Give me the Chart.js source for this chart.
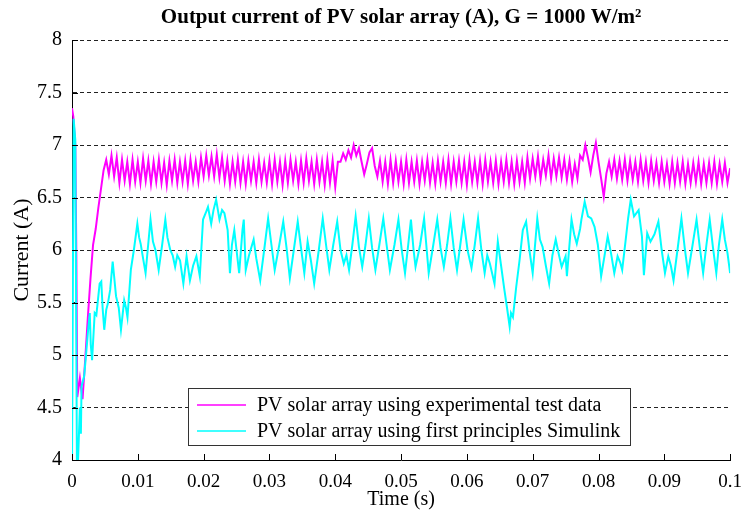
<!DOCTYPE html>
<html>
<head>
<meta charset="utf-8">
<script src="https://cdn.jsdelivr.net/npm/chart.js@4.4.1/dist/chart.umd.min.js"></script>
<style>
  html, body { margin: 0; padding: 0; background: #fff; }
</style>
</head>
<body>
<canvas id="myChart" width="753" height="513"></canvas>
<script>
// experimental test data: a few startup points, then one sample every 0.4 ms from 0.8 ms
var expStartTime = [0, 0.0002, 0.0005, 0.00065];
var expStartCurrent = [7.35, 7.27, 7.0, 6.02];
var expFrom = 0.0008;
var expStep = 0.0004;
var expCurrent = [
  4.60, 4.78, 4.58, 4.95, 5.35, 5.72, 6.05, 6.20, 6.40, 6.58,
  6.76, 6.86, 6.72, 6.90, 6.70, 6.88, 6.64, 6.86, 6.66, 6.84,
  6.63, 6.86, 6.65, 6.84, 6.64, 6.87, 6.66, 6.85, 6.63, 6.84,
  6.65, 6.86, 6.64, 6.83, 6.62, 6.85, 6.66, 6.86, 6.64, 6.84,
  6.65, 6.85, 6.63, 6.86, 6.66, 6.84, 6.65, 6.88, 6.70, 6.90,
  6.71, 6.89, 6.70, 6.91, 6.69, 6.88, 6.66, 6.85, 6.63, 6.84,
  6.65, 6.86, 6.64, 6.84, 6.63, 6.85, 6.66, 6.84, 6.64, 6.86,
  6.65, 6.83, 6.64, 6.85, 6.63, 6.86, 6.65, 6.84, 6.62, 6.85,
  6.64, 6.86, 6.66, 6.84, 6.63, 6.85, 6.64, 6.87, 6.66, 6.84,
  6.63, 6.86, 6.65, 6.84, 6.62, 6.86, 6.64, 6.85, 6.60, 6.84,
  6.84, 6.92, 6.86, 6.95, 6.88, 7.00, 6.90, 6.97, 6.84, 6.72,
  6.82, 6.93, 6.97, 6.80, 6.70, 6.85, 6.65, 6.84, 6.63, 6.86,
  6.64, 6.85, 6.65, 6.84, 6.63, 6.86, 6.64, 6.84, 6.65, 6.85,
  6.63, 6.84, 6.66, 6.86, 6.64, 6.83, 6.63, 6.85, 6.65, 6.84,
  6.64, 6.86, 6.63, 6.84, 6.65, 6.85, 6.64, 6.84, 6.62, 6.86,
  6.65, 6.84, 6.64, 6.85, 6.63, 6.86, 6.65, 6.84, 6.64, 6.85,
  6.63, 6.84, 6.65, 6.86, 6.64, 6.84, 6.63, 6.85, 6.65, 6.84,
  6.64, 6.88, 6.68, 6.87, 6.70, 6.89, 6.67, 6.86, 6.71, 6.90,
  6.68, 6.87, 6.70, 6.88, 6.69, 6.86, 6.67, 6.85, 6.65, 6.82,
  6.68, 6.90, 6.86, 7.00, 6.88, 6.74, 6.90, 7.02, 6.84, 6.68,
  6.51, 6.73, 6.84, 6.70, 6.86, 6.68, 6.85, 6.67, 6.86, 6.66,
  6.85, 6.67, 6.84, 6.65, 6.86, 6.66, 6.84, 6.64, 6.85, 6.66,
  6.83, 6.64, 6.84, 6.65, 6.82, 6.63, 6.84, 6.64, 6.83, 6.65,
  6.84, 6.63, 6.82, 6.64, 6.83, 6.65, 6.84, 6.63, 6.82, 6.64,
  6.83, 6.64, 6.84, 6.63, 6.82, 6.65, 6.83, 6.64, 6.78
];

// first principles Simulink model: turning points
var simTime = [
  0, 0.00025, 0.0005, 0.00075, 0.0009, 0.0012, 0.00135, 0.00145, 0.00185, 0.0022,
  0.00245, 0.0027, 0.00285, 0.00305, 0.00345, 0.0037, 0.0042, 0.00445, 0.00465, 0.0049,
  0.0052, 0.00545, 0.0058, 0.00618, 0.0064, 0.00669, 0.0071, 0.00744, 0.00793, 0.0082,
  0.00843, 0.00894, 0.0094, 0.00993, 0.0102, 0.01043, 0.0108, 0.01118, 0.0115, 0.01193,
  0.0123, 0.01268, 0.01317, 0.0137, 0.01418, 0.0145, 0.01493, 0.0153, 0.01567, 0.016,
  0.01642, 0.01692, 0.01741, 0.01792, 0.0184, 0.0189, 0.01942, 0.01991, 0.0203, 0.02066,
  0.02115, 0.0215, 0.0219, 0.02241, 0.0228, 0.02316, 0.02365, 0.024, 0.0243, 0.02466,
  0.025, 0.0254, 0.0259, 0.0261, 0.0264, 0.0269, 0.0276, 0.028, 0.0286, 0.0292,
  0.0298, 0.0303, 0.0308, 0.0315, 0.0321, 0.0326, 0.0331, 0.0337, 0.0343, 0.0348,
  0.0353, 0.0358, 0.0363, 0.0368, 0.0375, 0.0381, 0.0386, 0.0391, 0.0397, 0.0403,
  0.0408, 0.0413, 0.0417, 0.0421, 0.0426, 0.0431, 0.0436, 0.0441, 0.0446, 0.0451,
  0.0456, 0.0461, 0.0467, 0.0473, 0.0478, 0.0483, 0.049, 0.0496, 0.0501, 0.0506,
  0.051, 0.0515, 0.0519, 0.0522, 0.0529, 0.0535, 0.0539, 0.0542, 0.0549, 0.0555,
  0.056, 0.0565, 0.057, 0.0575, 0.058, 0.0585, 0.059, 0.0595, 0.0601, 0.0607,
  0.0612, 0.0617, 0.0622, 0.0627, 0.0631, 0.0635, 0.0642, 0.0647, 0.0652, 0.0657,
  0.0661, 0.0665, 0.0667, 0.067, 0.0675, 0.068, 0.0685, 0.069, 0.0695, 0.07,
  0.0707, 0.0711, 0.0715, 0.072, 0.0725, 0.073, 0.0735, 0.074, 0.0744, 0.075,
  0.0752, 0.0759, 0.0763, 0.0767, 0.0772, 0.0774, 0.0779, 0.0784, 0.0789, 0.0794,
  0.0799, 0.0804, 0.0809, 0.0814, 0.0819, 0.0824, 0.0829, 0.0833, 0.0836, 0.0841,
  0.0845, 0.0849, 0.0854, 0.0861, 0.0866, 0.0869, 0.0874, 0.0879, 0.0885, 0.0891,
  0.0896, 0.0901, 0.0906, 0.091, 0.0914, 0.092, 0.0926, 0.0931, 0.0936, 0.0943,
  0.0949, 0.0954, 0.0959, 0.0964, 0.0969, 0.0974, 0.0979, 0.0983, 0.0988, 0.0992,
  0.0996, 0.1
];
var simCurrent = [
  3.90, 7.25, 7.05, 3.95, 3.97, 4.50, 4.25, 4.70, 4.80, 5.05,
  5.24, 5.40, 5.10, 4.95, 5.40, 5.38, 5.68, 5.70, 5.45, 5.24,
  5.43, 5.49, 5.62, 5.89, 5.75, 5.56, 5.45, 5.24, 5.52, 5.45,
  5.36, 5.81, 6.00, 6.25, 6.12, 6.06, 5.92, 5.78, 6.00, 6.29,
  6.08, 6.00, 5.81, 6.05, 6.29, 6.12, 6.00, 5.95, 5.84, 5.95,
  5.90, 5.68, 5.94, 5.71, 5.85, 5.94, 5.75, 6.29, 6.35, 6.41,
  6.25, 6.38, 6.48, 6.29, 6.38, 6.35, 6.19, 5.78, 6.05, 6.19,
  6.00, 5.78, 6.19, 6.29, 5.81, 5.95, 6.10, 5.92, 5.71, 6.00,
  6.30, 6.05, 5.81, 6.05, 6.27, 6.02, 5.73, 6.00, 6.27, 6.02,
  5.78, 6.08, 5.90, 5.68, 6.00, 6.30, 6.05, 5.81, 6.05, 6.27,
  6.00, 5.87, 5.95, 5.81, 6.05, 6.32, 6.03, 5.84, 6.05, 6.30,
  6.02, 5.81, 6.05, 6.30, 6.05, 5.81, 6.05, 6.29, 6.00, 5.78,
  6.00, 6.29, 6.00, 5.84, 6.05, 6.30, 6.00, 5.78, 6.05, 6.29,
  6.02, 5.84, 6.05, 6.30, 6.02, 5.81, 6.05, 6.29, 6.00, 5.83,
  6.05, 6.30, 6.00, 5.78, 5.95, 5.87, 5.68, 6.08, 5.85, 5.62,
  5.45, 5.27, 5.40, 5.36, 5.65, 5.90, 6.19, 6.27, 6.00, 5.78,
  6.30, 6.10, 6.03, 5.85, 5.68, 5.95, 6.10, 5.95, 5.84, 5.94,
  5.75, 6.29, 6.15, 6.06, 6.20, 6.29, 6.46, 6.32, 6.30, 6.22,
  6.05, 5.75, 5.94, 6.13, 5.97, 5.78, 5.94, 5.88, 5.81, 6.08,
  6.30, 6.48, 6.32, 6.38, 6.13, 5.76, 6.16, 6.08, 6.15, 6.27,
  6.00, 5.78, 5.94, 5.85, 5.71, 6.00, 6.30, 6.02, 5.78, 6.05,
  6.29, 6.02, 5.78, 6.05, 6.29, 6.02, 5.78, 6.05, 6.29, 6.10,
  5.97, 5.78
];

var xTicks = [0, 0.01, 0.02, 0.03, 0.04, 0.05, 0.06, 0.07, 0.08, 0.09, 0.1];
var yTicks = [4, 4.5, 5, 5.5, 6, 6.5, 7, 7.5, 8];

var expPoints = expStartTime.map(function (t, i) { return {x: t, y: expStartCurrent[i]}; })
  .concat(expCurrent.map(function (v, i) { return {x: expFrom + i * expStep, y: v}; }));
var simPoints = simTime.map(function (t, i) { return {x: t, y: simCurrent[i]}; });

var serif = "'Liberation Serif', 'Times New Roman', serif";

// MATLAB style: ticks point into the plot
var innerTicks = {
  id: 'innerTicks',
  afterDraw: function (chart) {
    var ctx = chart.ctx, a = chart.chartArea, sx = chart.scales.x, sy = chart.scales.y;
    ctx.save();
    ctx.strokeStyle = '#000';
    ctx.lineWidth = 1;
    ctx.beginPath();
    xTicks.forEach(function (v) {
      var px = Math.round(sx.getPixelForValue(v)) + 0.5;
      ctx.moveTo(px, a.bottom);
      ctx.lineTo(px, a.bottom - 6);
    });
    yTicks.forEach(function (v) {
      var py = Math.round(sy.getPixelForValue(v)) + 0.5;
      ctx.moveTo(a.left, py);
      ctx.lineTo(a.left + 6, py);
    });
    ctx.stroke();
    ctx.restore();
  }
};

// boxed legend sitting in the lower middle of the plot
var boxLegend = {
  id: 'boxLegend',
  afterDraw: function (chart) {
    var ctx = chart.ctx, a = chart.chartArea;
    var left = a.left + 116, top = a.top + 348, w = 442, h = 57;
    ctx.save();
    ctx.fillStyle = '#fff';
    ctx.fillRect(left, top, w, h);
    ctx.strokeStyle = '#333';
    ctx.lineWidth = 1;
    ctx.strokeRect(left + 0.5, top + 0.5, w, h);
    ctx.font = '20px ' + serif;
    ctx.textBaseline = 'middle';
    ctx.fillStyle = '#000';
    chart.data.datasets.forEach(function (ds, i) {
      var y = top + 17 + i * 26;
      ctx.strokeStyle = ds.borderColor;
      ctx.lineWidth = 1.5;
      ctx.beginPath();
      ctx.moveTo(left + 9, y);
      ctx.lineTo(left + 58, y);
      ctx.stroke();
      ctx.fillText(ds.label, left + 69, y + 1);
    });
    ctx.restore();
  }
};

var ctx = document.getElementById('myChart').getContext('2d');
var myChart = new Chart(ctx, {
  type: 'line',
  data: {
    datasets: [
      {
        label: 'PV solar array using experimental test data',
        data: expPoints,
        borderColor: '#ff00ff',
        borderWidth: 2,
        pointRadius: 0,
        order: 1
      },
      {
        label: 'PV solar array using first principles Simulink',
        data: simPoints,
        borderColor: '#00ffff',
        borderWidth: 2,
        pointRadius: 0,
        order: 0
      }
    ]
  },
  options: {
    responsive: false,
    animation: false,
    layout: { padding: { left: 0, right: 13, top: 0, bottom: 0 } },
    plugins: {
      legend: { display: false },
      tooltip: { enabled: false },
      title: {
        display: true,
        fullSize: false,
        text: 'Output current of PV solar array (A), G = 1000 W/m\u00b2',
        color: '#000',
        font: { family: serif, size: 21, weight: 'bold' },
        padding: { top: 5, bottom: 9.8 }
      }
    },
    scales: {
      x: {
        type: 'linear',
        min: 0,
        max: 0.1,
        afterBuildTicks: function (s) { s.ticks = xTicks.map(function (v) { return {value: v}; }); },
        afterFit: function (s) { s.height = 53; },
        grid: { display: false, drawTicks: false },
        border: { display: true, color: '#000', width: 1 },
        ticks: {
          color: '#000',
          padding: 11,
          maxRotation: 0,
          font: { family: serif, size: 19 },
          callback: function (v) { return String(+v.toFixed(3)); }
        },
        title: {
          display: true,
          text: 'Time (s)',
          color: '#000',
          font: { family: serif, size: 20 },
          padding: { top: 0, bottom: 1 }
        }
      },
      y: {
        min: 4,
        max: 8,
        afterBuildTicks: function (s) { s.ticks = yTicks.map(function (v) { return {value: v}; }); },
        afterFit: function (s) { s.width = 72; },
        grid: { color: '#222', lineWidth: 1, drawTicks: false },
        border: { display: true, color: '#000', width: 1, dash: [4, 3] },
        ticks: {
          color: '#000',
          padding: 10,
          font: { family: serif, size: 20 },
          callback: function (v) { return String(+v.toFixed(2)); }
        },
        title: {
          display: true,
          text: 'Current (A)',
          color: '#000',
          font: { family: serif, size: 22 },
          padding: { top: 9, bottom: 0 }
        }
      }
    }
  },
  plugins: [innerTicks, boxLegend]
});
</script>
</body>
</html>
